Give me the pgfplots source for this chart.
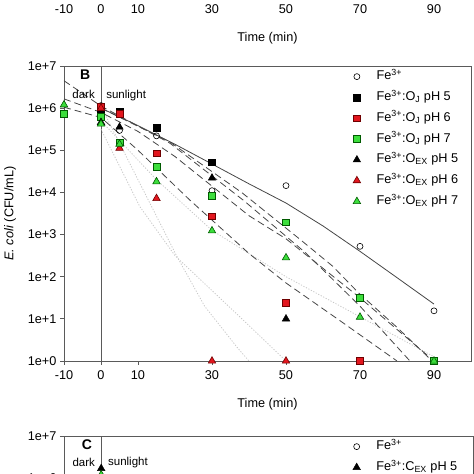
\documentclass[border=0pt]{standalone}
\usepackage{fontspec}
\setmainfont{Liberation Sans}
\usepackage{pgfplots}
\pgfplotsset{compat=1.18}
\definecolor{rfill}{RGB}{226,22,30}
\definecolor{rline}{RGB}{110,0,0}
\definecolor{gfill}{RGB}{60,222,60}
\definecolor{gline}{RGB}{0,90,0}
\definecolor{axc}{RGB}{90,90,90}
\definecolor{lc}{RGB}{70,70,70}
\definecolor{dc}{RGB}{200,200,200}
\pgfplotsset{
    scale only axis, width=407pt, height=295pt,
    xmin=-10, xmax=100, ymin=1, ymax=1e7,
    xtick={-10,0,10,30,50,70,90}, xticklabels={-10,0,10,30,50,70,90},
    ytick={1,10,100,1000,10000,100000,1000000,10000000},
    yticklabels={1e+0,1e+1,1e+2,1e+3,1e+4,1e+5,1e+6,1e+7},
    yminorticks=false,
    tick align=outside, tick pos=left, major tick length=4pt,
    axis line style={axc, line width=0.8pt},
    major tick style={axc, line width=0.8pt},
    tick label style={font=\fontsize{12.7}{15}\selectfont},
    xlabel={Time (min)},
    ylabel={\textit{E. coli} (CFU/mL)},
    every axis y label/.style={at={(axis description cs:0,0.5)}, xshift=-54pt, rotate=90, anchor=center, font=\fontsize{12.7}{15}\selectfont},
    every axis x label/.style={at={(axis description cs:0.5,0)}, yshift=-43pt, anchor=center, font=\fontsize{12.7}{15}\selectfont},
    xticklabel style={yshift=-2pt},
    legend cell align=left,
    legend style={draw=none, fill=none, inner sep=0pt, row sep=8.8pt, column sep=16pt,
      nodes={inner sep=0pt, text height=9pt, text depth=3pt},
      font=\fontsize{12.7}{15}\selectfont,
      at={(0.71,0.985)}, anchor=north west},
}
\pgfplotsset{
  mk/.style={only marks, legend image code/.code={\draw[##1] plot coordinates {(0pt,0pt)};}},
  circ/.style={mk, mark=o, mark size=3pt, mark options={draw=black, fill=white, line width=0.6pt}},
  bsq/.style={mk, mark=square*, mark size=3.4pt, mark options={draw=black, fill=black, line width=0.5pt}},
  rsq/.style={mk, mark=square*, mark size=3.4pt, mark options={draw=rline, fill=rfill, line width=0.6pt}},
  gsq/.style={mk, mark=square*, mark size=3.4pt, mark options={draw=gline, fill=gfill, line width=0.6pt}},
  btri/.style={mk, mark=triangle*, mark size=4.3pt, mark options={draw=black, fill=black, line width=0.5pt}},
  rtri/.style={mk, mark=triangle*, mark size=4.3pt, mark options={draw=rline, fill=rfill, line width=0.6pt}},
  gtri/.style={mk, mark=triangle*, mark size=4.3pt, mark options={draw=gline, fill=gfill, line width=0.6pt}},
  fitsolid/.style={no marks, draw=lc, line width=0.8pt, forget plot},
  fitdash/.style={no marks, draw=lc, line width=0.8pt, dash pattern=on 7pt off 4pt, forget plot},
  fitdot/.style={no marks, draw=dc, line width=0.8pt, dash pattern=on 1.2pt off 1.6pt, forget plot},
}
\begin{document}
\begin{tikzpicture}
\useasboundingbox (0,0) rectangle (474pt,474pt);
\clip (0,0) rectangle (474pt,474pt);

% Panel A (only bottom labels visible)
\begin{axis}[ymode=log, at={(64pt,479pt)}, anchor=south west, ylabel={}]
\addplot[draw=none, forget plot] coordinates {(0,10)};
\end{axis}

% Panel B
\begin{axis}[ymode=log, at={(64pt,113pt)}, anchor=south west]
\addplot[draw=axc, line width=0.8pt, forget plot] coordinates {(0,1) (0,1e7)};
% fitted curves
\addplot[fitdot] coordinates {(0,1.1e6) (10,2e4) (20.4,316) (28,20) (37,2) (40,1)};
\addplot[fitdot] coordinates {(0,3.16e5) (10.5,4.6e3) (20,316) (37.5,11.2) (50,1)};
\addplot[fitdot] coordinates {(0,5e5) (15,2e4) (30,1.26e3) (50,100) (70,11.2) (90,1.26)};
\addplot[fitdash] coordinates {(-10,1.05e6) (0,6.0e5) (10,1e5) (24,6.6e3) (40,355) (50,71) (64.4,9.3) (80,1)};
\addplot[fitdash] coordinates {(-10,1.66e6) (0,7.9e5) (10,2.8e5) (20,7.1e4) (30,1.41e4) (40,2.8e3) (50,794) (60,158) (70,31.6) (80,5.6) (90,1)};
\addplot[fitdash] coordinates {(-10,4.47e6) (0,1.12e6) (18.6,1.48e5) (38.4,6.6e3) (55.4,363) (70,20) (83.5,1)};
\addplot[fitdash] coordinates {(0,1e6) (18.6,1.58e5) (38,1e4) (53.6,794) (62.6,178) (69.8,39.8) (80,6.3) (89.5,1)};
\addplot[fitsolid] coordinates {(0,1e6) (10,3.85e5) (20,1.39e5) (30,4.72e4) (40,1.6e4) (50,5.6e3) (60,1.6e3) (70,400) (80,95) (90,22.4)};
% data
\addplot[circ] coordinates {(0,1.15e6) (5,2.95e5) (15,2.2e5) (30,1.1e4) (50,1.45e4) (70,525) (90,15.5)};
\addlegendentry{Fe\textsuperscript{3+}}
\addplot[bsq] coordinates {(0,8.9e5) (5,8.3e5) (15,3.5e5) (30,5.2e4)};
\addlegendentry{Fe\textsuperscript{3+}:O\textsubscript{J} pH 5}
\addplot[rsq] coordinates {(0,1.07e6) (5,7.4e5) (15,8.5e4) (30,2.7e3) (50,24.5) (70,1)};
\addlegendentry{Fe\textsuperscript{3+}:O\textsubscript{J} pH 6}
\addplot[gsq] coordinates {(-10,7.4e5) (0,6.3e5) (5,1.55e5) (15,4e4) (30,8.3e3) (50,1.95e3) (70,31) (90,1)};
\addlegendentry{Fe\textsuperscript{3+}:O\textsubscript{J} pH 7}
\addplot[btri] coordinates {(0,4.6e5) (5,3.55e5) (30,2.2e4) (50,10)};
\addlegendentry{Fe\textsuperscript{3+}:O\textsubscript{EX} pH 5}
\addplot[rtri] coordinates {(0,1e6) (5,1.12e5) (15,7.2e3) (30,1) (50,1)};
\addlegendentry{Fe\textsuperscript{3+}:O\textsubscript{EX} pH 6}
\addplot[gtri] coordinates {(-10,1.2e6) (0,4.2e5) (5,1.4e5) (15,1.8e4) (30,1.23e3) (50,282) (70,11) (90,1)};
\addlegendentry{Fe\textsuperscript{3+}:O\textsubscript{EX} pH 7}
\node[font=\fontsize{14}{16}\selectfont\bfseries] at (axis cs:-4.3,6.2e6) {B};
\node[font=\fontsize{11.5}{14}\selectfont] at (axis cs:-4.7,2.1e6) {dark};
\node[font=\fontsize{11.5}{14}\selectfont] at (axis cs:6.8,2.0e6) {sunlight};
\end{axis}

% Panel C (top part)
\begin{axis}[ymode=log, at={(64pt,38pt)}, anchor=north west, width=409pt, xlabel={}, ylabel={},
  legend style={at={(0.706,0.985)}}]
\addplot[draw=axc, line width=0.8pt, forget plot] coordinates {(0,1) (0,1e7)};
\addplot[circ] coordinates {(0,1.1e6) (90,10)};
\addlegendentry{Fe\textsuperscript{3+}}
\addplot[btri] coordinates {(0,1.7e6) (30,1e4)};
\addlegendentry{Fe\textsuperscript{3+}:C\textsubscript{EX} pH 5}
\addplot[gtri, forget plot] coordinates {(0,1.2e6)};
\node[font=\fontsize{14}{16}\selectfont\bfseries] at (axis cs:-3.8,6.2e6) {C};
\node[font=\fontsize{11.5}{14}\selectfont] at (axis cs:-4.7,2.4e6) {dark};
\node[font=\fontsize{11.5}{14}\selectfont] at (axis cs:7.2,2.3e6) {sunlight};
\end{axis}
\end{tikzpicture}
\end{document}
